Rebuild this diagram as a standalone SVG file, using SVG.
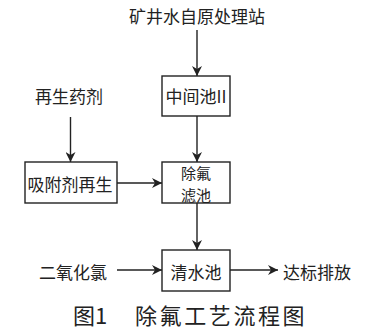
<svg xmlns="http://www.w3.org/2000/svg" width="386" height="331" viewBox="0 0 386 331">
<defs>
<style>
.t{font-family:"Noto Sans CJK SC","Noto Sans",sans-serif;font-size:17px;fill:#222;text-anchor:middle;dominant-baseline:central}
.cap{font-family:"Noto Sans CJK SC","Noto Sans",sans-serif;font-size:22px;fill:#222;dominant-baseline:central}
.box{fill:#fff;stroke:#222;stroke-width:1.4}
.ln{stroke:#222;stroke-width:1.4;fill:none;marker-end:url(#ah)}
</style>
<marker id="ah" viewBox="0 0 10 10" refX="10" refY="5" markerWidth="10" markerHeight="10" markerUnits="userSpaceOnUse" orient="auto">
<path d="M0,0 L10,5 L0,10 L3,5 Z" fill="#222"/>
</marker>
</defs>
<rect width="386" height="331" fill="#fff"/>
<g id="connectors">
<line class="ln" x1="197" y1="30" x2="197" y2="76"/>
<line class="ln" x1="70.5" y1="117" x2="70.5" y2="162"/>
<line class="ln" x1="197" y1="116" x2="197" y2="162"/>
<line class="ln" x1="117" y1="183" x2="162" y2="183"/>
<line class="ln" x1="197" y1="203" x2="197" y2="250"/>
<line class="ln" x1="117" y1="270" x2="162" y2="270"/>
<line class="ln" x1="230" y1="270" x2="278" y2="270"/>
</g>
<g id="source"><text class="t" x="197" y="15">矿井水自原处理站</text></g>
<g id="reagent"><text class="t" x="69" y="95">再生药剂</text></g>
<g id="mid-pool"><rect class="box" x="162" y="76" width="68" height="40"/><text class="t" x="196" y="95">中间池II</text></g>
<g id="regen"><rect class="box" x="25" y="162" width="92" height="41"/><text class="t" x="70" y="183">吸附剂再生</text></g>
<g id="filter"><rect class="box" x="162" y="162" width="68" height="41"/><text class="t" x="196" y="172" style="font-size:15px">除氟</text><text class="t" x="196" y="194" style="font-size:15px">滤池</text></g>
<g id="clear-pool"><rect class="box" x="162" y="250" width="68" height="41"/><text class="t" x="196" y="271">清水池</text></g>
<g id="clo2"><text class="t" x="73" y="271">二氧化氯</text></g>
<g id="discharge"><text class="t" x="317" y="271">达标排放</text></g>
<g id="caption"><text class="cap" x="73" y="314">图1</text><text class="cap" x="135" y="314" letter-spacing="2.6">除氟工艺流程图</text></g>
</svg>
